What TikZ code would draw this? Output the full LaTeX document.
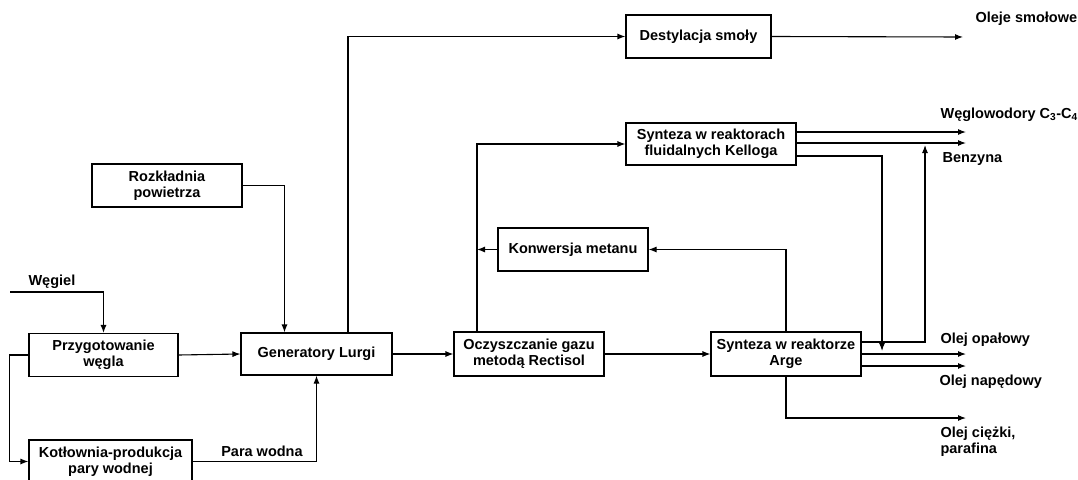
\documentclass[tikz,border=0pt]{standalone}
\usepackage{fontspec}
\setmainfont{Liberation Sans}
\usetikzlibrary{arrows.meta}
\begin{document}
\begin{tikzpicture}[x=1pt,y=-1pt,>={Latex[length=8pt,width=6pt]},line width=1.1pt,
    font=\fontsize{14.5}{16}\selectfont\bfseries,
    box/.style={draw,align=center,inner sep=0pt,minimum width=150pt,minimum height=43pt},
    lbl/.style={anchor=west,inner sep=0pt,align=left}]
  \useasboundingbox (0,0) rectangle (1078,479);
  % boxes
  \node[box] (rozk) at (167,185.5) {Rozkładnia\\powietrza};
  \node[box,minimum width=149pt] (przyg) at (103.5,355) {Przygotowanie\\węgla};
  \node[box,minimum width=163pt] (kotl) at (110.5,461.5) {Kotłownia-produkcja\\pary wodnej};
  \node[box,minimum width=151pt,minimum height=42pt] (gen) at (316.5,354) {Generatory Lurgi};
  \node[box,minimum width=145pt] (dest) at (698.5,36.5) {Destylacja smoły};
  \node[box,minimum width=170pt,minimum height=42pt] (kell) at (711,144) {Synteza w reaktorach\\fluidalnych Kelloga};
  \node[box] (konw) at (573,249.5) {Konwersja metanu};
  \node[box,minimum height=44pt] (ocz) at (529,354) {Oczyszczanie gazu\\metodą Rectisol};
  \node[box,minimum height=44pt] (arge) at (786,354) {Synteza w reaktorze\\Arge};
  % free ends
  \coordinate (wegiel) at (10,292);
  \coordinate (ocztop) at ([xshift=-52pt]ocz.north);
  \coordinate (smola) at (963,37);
  \coordinate (weglow) at (966,132);
  \coordinate (benz) at (966,143);
  \coordinate (opal) at (966,354);
  \coordinate (naped) at (966,366);
  \coordinate (ciezki) at (966,418);
  % left part
  \draw[->] (wegiel) -| (przyg.north);
  \node[lbl] (lwegiel) at (28,282) {Węgiel};
  \draw[->] (przyg.east) -- (gen.west);
  \draw[->] (przyg.west) -- ++(-19,0) |- (kotl.west);
  \draw[->] (kotl.east) -| (gen.south)
    node[pos=0.28,above=1pt] (lpara) {Para wodna};
  \draw[->] (rozk.east) -| ([xshift=-32pt]gen.north);
  \draw[->] ([xshift=31.5pt]gen.north) |- (dest.west);
  \draw[->] (dest.east) -- (smola);
  \node[lbl] (lsmola) at (975,19) {Oleje smołowe};
  \draw[->] (gen.east) -- (ocz.west);
  % gas cleaning and recycle
  \draw[->] (ocztop) |- (kell.west);
  \draw[->] (konw.west) -- (konw.west -| ocztop);
  \draw[->] (arge.north) |- (konw.east);
  \draw[->] (ocz.east) -- (arge.west);
  % Kellog products
  \draw[->] ([yshift=12pt]kell.east) -- (weglow);
  \draw[->] ([yshift=1pt]kell.east) -- (benz);
  \draw[->] ([yshift=-12pt]kell.east) -| (882,351);
  \node[lbl] (lweglow) at (940,115) {Węglowodory C\textsubscript{3}-C\textsubscript{4}};
  \node[lbl] (lbenz) at (942,159) {Benzyna};
  % Arge products
  \draw[->] ([yshift=12pt]arge.east) -| (925,145);
  \draw[->] (arge.east) -- (opal);
  \draw[->] ([yshift=-12pt]arge.east) -- (naped);
  \draw[->] (arge.south) |- (ciezki);
  \node[lbl] (lopal) at (940,340) {Olej opałowy};
  \node[lbl] (lnaped) at (939,382) {Olej napędowy};
  \node[lbl,anchor=north west] (lciezki) at (940,426) {Olej ciężki,\\parafina};
\end{tikzpicture}
\end{document}
